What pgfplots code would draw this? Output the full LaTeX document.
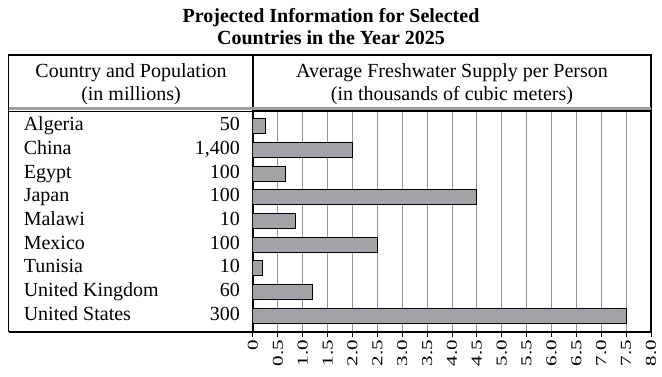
\documentclass[border=0pt]{standalone}
\usepackage{fontspec}
\setmainfont{Liberation Serif}
\usepackage{pgfplots}
\pgfplotsset{compat=1.18}
\definecolor{barfill}{HTML}{A2A3A6}
\definecolor{gridc}{HTML}{959595}
\begin{document}
\begin{tikzpicture}[x=1pt,y=1pt]
\useasboundingbox (0pt,0pt) rectangle (662pt,-376pt);
\node[font=\fontsize{20}{22.5}\selectfont\bfseries, align=center] at (331pt,-26.5pt) {Projected Information for Selected\\Countries in the Year 2025};
\draw[line width=1.2pt] (8.5pt,-332pt) -- (8.5pt,-55pt) -- (651pt,-55pt) -- (651pt,-332pt);
\draw[line width=1.2pt] (253pt,-55pt) -- (253pt,-108pt);
\fill[gray!75] (8.5pt,-107pt) rectangle (651pt,-110.2pt);
\draw[line width=0.9pt] (8.5pt,-111pt) -- (651pt,-111pt);
\draw[line width=1.2pt] (8.5pt,-332pt) -- (253pt,-332pt);
\node[font=\fontsize{20}{23}\selectfont, align=center] at (131pt,-84pt) {Country and Population\\(in millions)};
\node[font=\fontsize{20}{23}\selectfont, align=center] at (452pt,-84pt) {Average Freshwater Supply per Person\\(in thousands of cubic meters)};
\begin{axis}[
  at={(253pt,-332pt)}, anchor=south west,
  scale only axis, width=398pt, height=221pt,
  xbar, bar width=15pt,
  xmin=0, xmax=8, ymin=0.36, ymax=9.68, y dir=reverse,
  axis line style={line width=1.2pt},
  xtick={0,0.5,...,8},
  xticklabels={0,0.5,1.0,1.5,2.0,2.5,3.0,3.5,4.0,4.5,5.0,5.5,6.0,6.5,7.0,7.5,8.0},
  xtick pos=bottom, tick align=outside, major tick length=5pt,
  x tick style={black, line width=1pt},
  xticklabel style={rotate=90, yscale=0.72, anchor=east, font=\fontsize{21}{21}\selectfont, inner sep=1pt, xshift=-2pt},
  xmajorgrids, grid style={gridc, line width=1pt},
  ytick={1,...,9},
  y tick style={draw=none},
  yticklabels={
    {\makebox[216pt]{Algeria\hfill 50}},
    {\makebox[216pt]{China\hfill 1,400}},
    {\makebox[216pt]{Egypt\hfill 100}},
    {\makebox[216pt]{Japan\hfill 100}},
    {\makebox[216pt]{Malawi\hfill 10}},
    {\makebox[216pt]{Mexico\hfill 100}},
    {\makebox[216pt]{Tunisia\hfill 10}},
    {\makebox[216pt]{United Kingdom\hfill 60}},
    {\makebox[216pt]{United States\hfill 300}}},
  yticklabel style={anchor=east, inner sep=0pt, text height=13.5pt, text depth=4.5pt, font=\fontsize{20}{20}\selectfont},
  yticklabel shift=8pt,
]
\addplot[fill=barfill, draw=black, line width=1pt] coordinates {
  (0.25,1) (2.0,2) (0.65,3) (4.5,4) (0.85,5) (2.5,6) (0.2,7) (1.2,8) (7.5,9)
};
\end{axis}
\end{tikzpicture}
\end{document}
